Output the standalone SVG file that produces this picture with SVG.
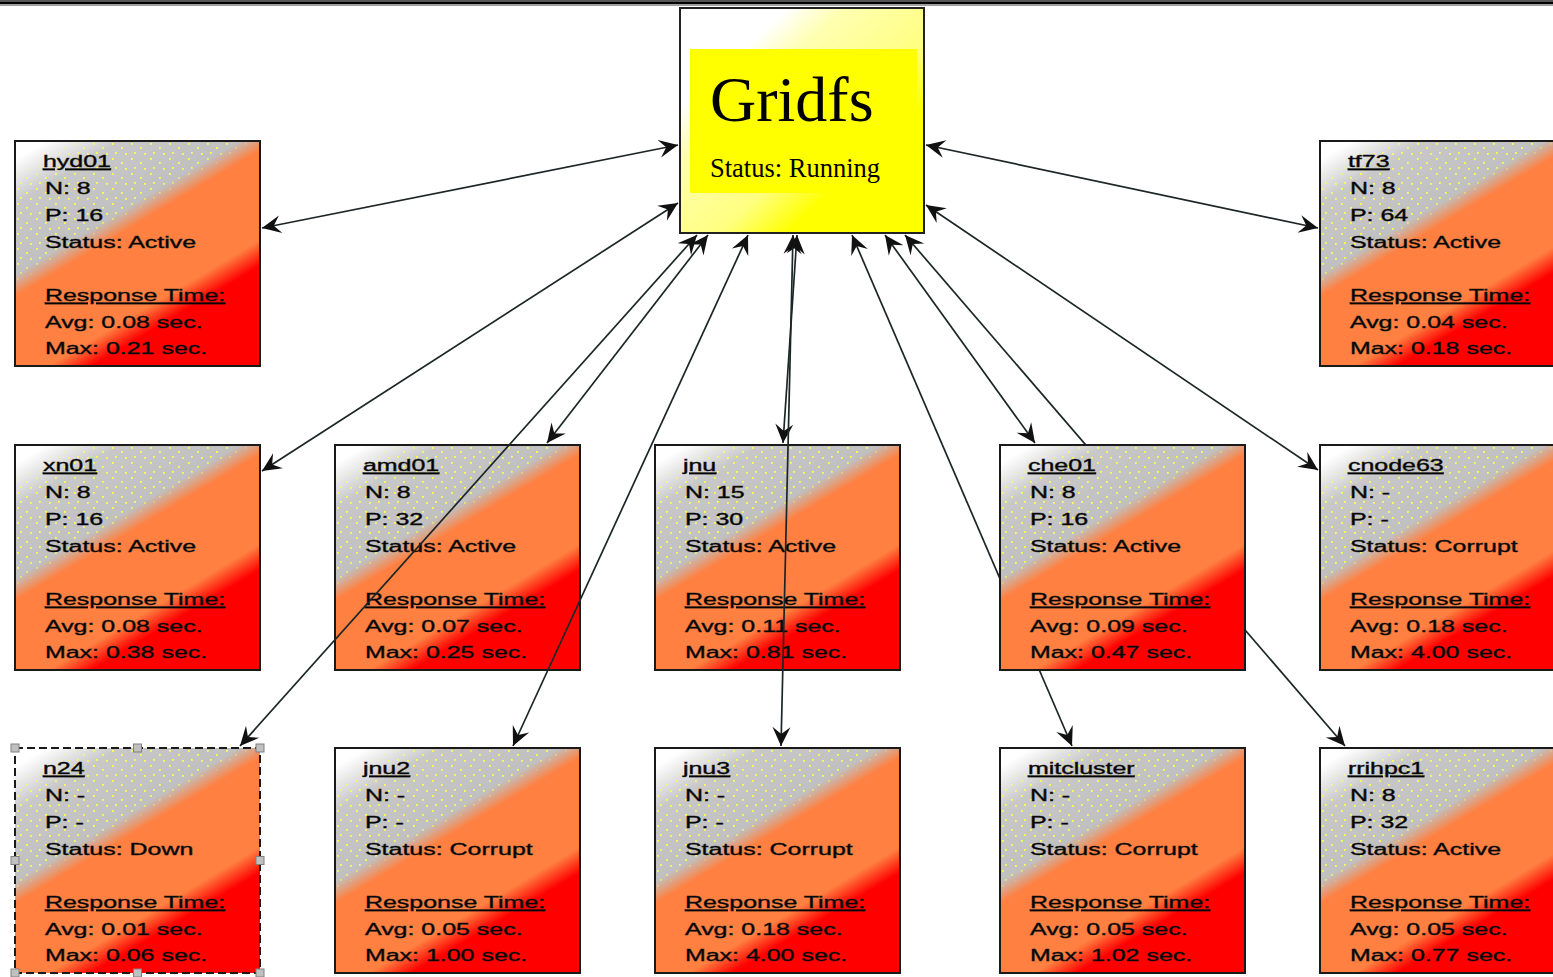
<svg xmlns="http://www.w3.org/2000/svg" width="1553" height="977" viewBox="0 0 1553 977">
<style>
.box{fill:url(#ng);stroke:#1a1a1a;stroke-width:2}
.dots{fill:url(#dp);mask:url(#dm)}
.t{font-family:"Liberation Sans",Arial,sans-serif;font-size:16px;fill:#000;stroke:#1a1a1a;stroke-width:0.4}
.u{text-decoration:underline}
.c path{fill:none;stroke:#1c2626;stroke-width:1.7;marker-start:url(#ah);marker-end:url(#ah)}
.h{fill:#c0c0c0;stroke:#808080;stroke-width:1}
.g{font-family:"Liberation Serif","Times New Roman",serif;fill:#000}
</style>
<defs>
<linearGradient id="ng" x1="0" y1="0" x2="0.754" y2="1.16">
<stop offset="0" stop-color="#ffffff"/>
<stop offset="0.05" stop-color="#ffffff"/>
<stop offset="0.17" stop-color="#c8c8c8"/>
<stop offset="0.36" stop-color="#c0c0c0"/>
<stop offset="0.42" stop-color="#ff8040"/>
<stop offset="0.66" stop-color="#ff8040"/>
<stop offset="0.73" stop-color="#ff0000"/>
<stop offset="1" stop-color="#ff0000"/>
</linearGradient>
<linearGradient id="mg" x1="0" y1="0" x2="0.754" y2="1.16">
<stop offset="0.08" stop-color="#000"/>
<stop offset="0.14" stop-color="#fff"/>
<stop offset="0.35" stop-color="#fff"/>
<stop offset="0.39" stop-color="#000"/>
</linearGradient>
<mask id="dm" maskContentUnits="objectBoundingBox"><rect width="1" height="1" fill="url(#mg)"/></mask>
<pattern id="dp" patternUnits="userSpaceOnUse" width="19" height="15">
<rect x="2" y="2" width="1.8" height="1.8" fill="#ffff50"/>
<rect x="11" y="6" width="1.8" height="1.8" fill="#ffff50"/>
<rect x="5" y="11" width="1.8" height="1.8" fill="#ffff50"/>
<rect x="15" y="12" width="1.8" height="1.8" fill="#ffff50"/>
</pattern>
<linearGradient id="yg" x1="0" y1="0" x2="1" y2="1">
<stop offset="0" stop-color="#ffffff"/>
<stop offset="0.22" stop-color="#ffffff"/>
<stop offset="0.34" stop-color="#ffffb0"/>
<stop offset="0.58" stop-color="#ffff80"/>
<stop offset="0.72" stop-color="#ffff00"/>
<stop offset="1" stop-color="#ffff00"/>
</linearGradient>
<marker id="ah" markerUnits="userSpaceOnUse" markerWidth="24" markerHeight="24" viewBox="-22 -11 24 22" refX="0" refY="0" orient="auto-start-reverse" overflow="visible">
<path d="M0,0 L-19,-9 L-12,0 L-19,9 Z" fill="#111"/>
</marker>
</defs>

<rect x="0" y="0" width="1553" height="2" fill="#555"/>
<rect x="0" y="2" width="1553" height="2" fill="#000"/>
<rect x="0" y="4" width="1553" height="2" fill="#a0a0a0"/>

<g id="gridfs">
<rect x="680" y="8" width="244" height="225" fill="url(#yg)" stroke="#222" stroke-width="2"/>
<rect x="690" y="49" width="227" height="144" fill="#ffff00"/>
<text class="g" x="710" y="121" font-size="64">Gridfs</text>
<text class="g" x="710" y="177" font-size="26.5">Status: Running</text>
</g>

<g id="hyd01" transform="translate(15,141)">
<rect class="box" width="245" height="225"/><rect class="dots" width="245" height="225"/>
<g transform="scale(1.56,1)">
<text class="t u" x="17.9" y="26">hyd01</text>
<text class="t" x="19.2" y="53">N: 8</text>
<text class="t" x="19.2" y="80">P: 16</text>
<text class="t" x="19.2" y="107">Status: Active</text>
<text class="t u" x="19.2" y="160">Response Time:</text>
<text class="t" x="19.2" y="187">Avg: 0.08 sec.</text>
<text class="t" x="19.2" y="213">Max: 0.21 sec.</text>
</g></g>

<g id="tf73" transform="translate(1320,141)">
<rect class="box" width="245" height="225"/><rect class="dots" width="245" height="225"/>
<g transform="scale(1.56,1)">
<text class="t u" x="17.9" y="26">tf73</text>
<text class="t" x="19.2" y="53">N: 8</text>
<text class="t" x="19.2" y="80">P: 64</text>
<text class="t" x="19.2" y="107">Status: Active</text>
<text class="t u" x="19.2" y="160">Response Time:</text>
<text class="t" x="19.2" y="187">Avg: 0.04 sec.</text>
<text class="t" x="19.2" y="213">Max: 0.18 sec.</text>
</g></g>

<g id="xn01" transform="translate(15,445)">
<rect class="box" width="245" height="225"/><rect class="dots" width="245" height="225"/>
<g transform="scale(1.56,1)">
<text class="t u" x="17.9" y="26">xn01</text>
<text class="t" x="19.2" y="53">N: 8</text>
<text class="t" x="19.2" y="80">P: 16</text>
<text class="t" x="19.2" y="107">Status: Active</text>
<text class="t u" x="19.2" y="160">Response Time:</text>
<text class="t" x="19.2" y="187">Avg: 0.08 sec.</text>
<text class="t" x="19.2" y="213">Max: 0.38 sec.</text>
</g></g>

<g id="amd01" transform="translate(335,445)">
<rect class="box" width="245" height="225"/><rect class="dots" width="245" height="225"/>
<g transform="scale(1.56,1)">
<text class="t u" x="17.9" y="26">amd01</text>
<text class="t" x="19.2" y="53">N: 8</text>
<text class="t" x="19.2" y="80">P: 32</text>
<text class="t" x="19.2" y="107">Status: Active</text>
<text class="t u" x="19.2" y="160">Response Time:</text>
<text class="t" x="19.2" y="187">Avg: 0.07 sec.</text>
<text class="t" x="19.2" y="213">Max: 0.25 sec.</text>
</g></g>

<g id="jnu" transform="translate(655,445)">
<rect class="box" width="245" height="225"/><rect class="dots" width="245" height="225"/>
<g transform="scale(1.56,1)">
<text class="t u" x="17.9" y="26">jnu</text>
<text class="t" x="19.2" y="53">N: 15</text>
<text class="t" x="19.2" y="80">P: 30</text>
<text class="t" x="19.2" y="107">Status: Active</text>
<text class="t u" x="19.2" y="160">Response Time:</text>
<text class="t" x="19.2" y="187">Avg: 0.11 sec.</text>
<text class="t" x="19.2" y="213">Max: 0.81 sec.</text>
</g></g>

<g id="cnode63" transform="translate(1320,445)">
<rect class="box" width="245" height="225"/><rect class="dots" width="245" height="225"/>
<g transform="scale(1.56,1)">
<text class="t u" x="17.9" y="26">cnode63</text>
<text class="t" x="19.2" y="53">N: -</text>
<text class="t" x="19.2" y="80">P: -</text>
<text class="t" x="19.2" y="107">Status: Corrupt</text>
<text class="t u" x="19.2" y="160">Response Time:</text>
<text class="t" x="19.2" y="187">Avg: 0.18 sec.</text>
<text class="t" x="19.2" y="213">Max: 4.00 sec.</text>
</g></g>

<g id="n24" transform="translate(15,748)">
<rect class="box" width="245" height="225" stroke-dasharray="8 4"/><rect class="dots" width="245" height="225"/>
<g transform="scale(1.56,1)">
<text class="t u" x="17.9" y="26">n24</text>
<text class="t" x="19.2" y="53">N: -</text>
<text class="t" x="19.2" y="80">P: -</text>
<text class="t" x="19.2" y="107">Status: Down</text>
<text class="t u" x="19.2" y="160">Response Time:</text>
<text class="t" x="19.2" y="187">Avg: 0.01 sec.</text>
<text class="t" x="19.2" y="213">Max: 0.06 sec.</text>
</g>
<rect class="h" x="-4" y="-4" width="8" height="8"/>
<rect class="h" x="118.5" y="-4" width="8" height="8"/>
<rect class="h" x="241" y="-4" width="8" height="8"/>
<rect class="h" x="-4" y="108.5" width="8" height="8"/>
<rect class="h" x="241" y="108.5" width="8" height="8"/>
<rect class="h" x="-4" y="221" width="8" height="8"/>
<rect class="h" x="118.5" y="221" width="8" height="8"/>
<rect class="h" x="241" y="221" width="8" height="8"/>
</g>

<g id="jnu2" transform="translate(335,748)">
<rect class="box" width="245" height="225"/><rect class="dots" width="245" height="225"/>
<g transform="scale(1.56,1)">
<text class="t u" x="17.9" y="26">jnu2</text>
<text class="t" x="19.2" y="53">N: -</text>
<text class="t" x="19.2" y="80">P: -</text>
<text class="t" x="19.2" y="107">Status: Corrupt</text>
<text class="t u" x="19.2" y="160">Response Time:</text>
<text class="t" x="19.2" y="187">Avg: 0.05 sec.</text>
<text class="t" x="19.2" y="213">Max: 1.00 sec.</text>
</g></g>

<g id="jnu3" transform="translate(655,748)">
<rect class="box" width="245" height="225"/><rect class="dots" width="245" height="225"/>
<g transform="scale(1.56,1)">
<text class="t u" x="17.9" y="26">jnu3</text>
<text class="t" x="19.2" y="53">N: -</text>
<text class="t" x="19.2" y="80">P: -</text>
<text class="t" x="19.2" y="107">Status: Corrupt</text>
<text class="t u" x="19.2" y="160">Response Time:</text>
<text class="t" x="19.2" y="187">Avg: 0.18 sec.</text>
<text class="t" x="19.2" y="213">Max: 4.00 sec.</text>
</g></g>

<g id="mitcluster" transform="translate(1000,748)">
<rect class="box" width="245" height="225"/><rect class="dots" width="245" height="225"/>
<g transform="scale(1.56,1)">
<text class="t u" x="17.9" y="26">mitcluster</text>
<text class="t" x="19.2" y="53">N: -</text>
<text class="t" x="19.2" y="80">P: -</text>
<text class="t" x="19.2" y="107">Status: Corrupt</text>
<text class="t u" x="19.2" y="160">Response Time:</text>
<text class="t" x="19.2" y="187">Avg: 0.05 sec.</text>
<text class="t" x="19.2" y="213">Max: 1.02 sec.</text>
</g></g>

<g id="rrihpc1" transform="translate(1320,748)">
<rect class="box" width="245" height="225"/><rect class="dots" width="245" height="225"/>
<g transform="scale(1.56,1)">
<text class="t u" x="17.9" y="26">rrihpc1</text>
<text class="t" x="19.2" y="53">N: 8</text>
<text class="t" x="19.2" y="80">P: 32</text>
<text class="t" x="19.2" y="107">Status: Active</text>
<text class="t u" x="19.2" y="160">Response Time:</text>
<text class="t" x="19.2" y="187">Avg: 0.05 sec.</text>
<text class="t" x="19.2" y="213">Max: 0.77 sec.</text>
</g></g>

<g id="connectors" class="c">
<path d="M262,228 L678,145"/>
<path d="M1318,228 L926,145"/>
<path d="M262,471 L678,203"/>
<path d="M1318,470 L926,205"/>
<path d="M240,746 L697,235"/>
<path d="M547,443 L708,235"/>
<path d="M513,746 L748,235"/>
<path d="M783,443 L797,235"/>
<path d="M781,746 L793,235"/>
<path d="M1072,746 L852,235"/>
<path d="M1035,443 L885,235"/>
<path d="M1345,746 L905,235"/>
</g>

<g id="che01" transform="translate(1000,445)">
<rect class="box" width="245" height="225"/><rect class="dots" width="245" height="225"/>
<g transform="scale(1.56,1)">
<text class="t u" x="17.9" y="26">che01</text>
<text class="t" x="19.2" y="53">N: 8</text>
<text class="t" x="19.2" y="80">P: 16</text>
<text class="t" x="19.2" y="107">Status: Active</text>
<text class="t u" x="19.2" y="160">Response Time:</text>
<text class="t" x="19.2" y="187">Avg: 0.09 sec.</text>
<text class="t" x="19.2" y="213">Max: 0.47 sec.</text>
</g></g>
</svg>
